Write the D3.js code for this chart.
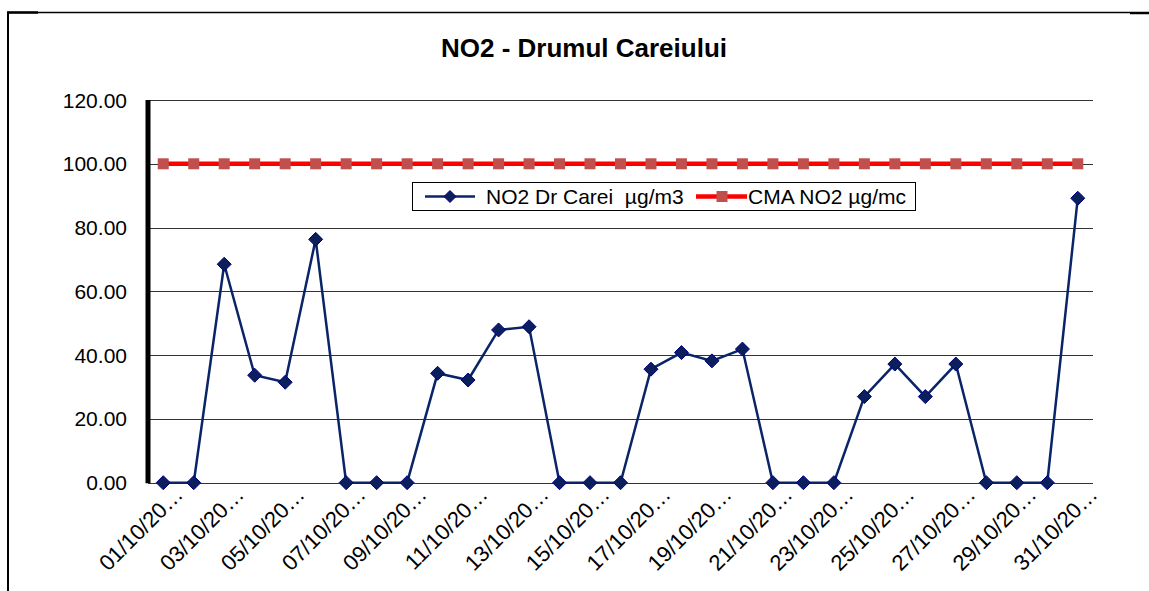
<!DOCTYPE html>
<html><head><meta charset="utf-8">
<script src="https://cdn.jsdelivr.net/npm/d3@7/dist/d3.min.js"></script>
<style>body{margin:0;background:#fff}svg{display:block}text{font-family:"Liberation Sans",Arial,sans-serif;white-space:pre}</style>
</head><body>
<script>
const days = ["01/10","02/10","03/10","04/10","05/10","06/10","07/10","08/10","09/10","10/10","11/10","12/10","13/10","14/10","15/10","16/10","17/10","18/10","19/10","20/10","21/10","22/10","23/10","24/10","25/10","26/10","27/10","28/10","29/10","30/10","31/10"];
const no2 = [0,0,68.5,33.7,31.5,76.3,0,0,0,34.3,32.2,47.9,48.9,0,0,0,35.6,40.8,38.2,41.9,0,0,0,27.0,37.2,27.0,37.2,0,0,0,89.2];
const cma = days.map(()=>100);
const tickLabels = ["01/10/20…","03/10/20…","05/10/20…","07/10/20…","09/10/20…","11/10/20…","13/10/20…","15/10/20…","17/10/20…","19/10/20…","21/10/20…","23/10/20…","25/10/20…","27/10/20…","29/10/20…","31/10/20…"];
const yTicks = [0,20,40,60,80,100,120];
const title = "NO2 - Drumul Careiului";
const seriesNames = ["NO2 Dr Carei  µg/m3","CMA NO2 µg/mc"];

const W=1149,H=591;
const svg=d3.select("body").append("svg").attr("width",W).attr("height",H);
// outer frame fragments
svg.append("line").attr("x1",7).attr("x2",1130).attr("y1",12.5).attr("y2",12.5).attr("stroke","#000").attr("stroke-width",1.5);
svg.append("line").attr("x1",7).attr("x2",38).attr("y1",12.5).attr("y2",12.5).attr("stroke","#000").attr("stroke-width",2.5);
svg.append("line").attr("x1",1130).attr("x2",1149).attr("y1",13).attr("y2",13).attr("stroke","#000").attr("stroke-width",2.5);
svg.append("line").attr("x1",8).attr("x2",8).attr("y1",12).attr("y2",H).attr("stroke","#000").attr("stroke-width",2);

const L=148,R=1093,T=100,B=482.7;
const x=d3.scaleBand().domain(days).range([L,R]);
const cx=d=>x(d)+x.bandwidth()/2;
const y=d3.scaleLinear().domain([0,120]).range([B,T]);

// title
svg.append("text").attr("x",584).attr("y",57).attr("text-anchor","middle").attr("font-size",26).attr("font-weight","bold").text(title);

// gridlines
svg.append("g").selectAll("line").data(yTicks).join("line")
 .attr("x1",L).attr("x2",R).attr("y1",d=>Math.round(y(d))+0.5).attr("y2",d=>Math.round(y(d))+0.5)
 .attr("stroke","#333").attr("stroke-width",1);
// y labels
svg.append("g").selectAll("text").data(yTicks).join("text")
 .attr("x",127).attr("y",d=>y(d)).attr("dy","0.36em").attr("text-anchor","end").attr("font-size",21)
 .text(d=>d3.format(".2f")(d));
// left axis thick
svg.append("line").attr("x1",148).attr("x2",148).attr("y1",T).attr("y2",B+0.5).attr("stroke","#000").attr("stroke-width",5);

// x labels
const lx=d3.scalePoint().domain(tickLabels).range([cx(days[0]),cx(days[30])]);
svg.append("g").selectAll("text").data(tickLabels).join("text")
 .attr("text-anchor","end").attr("font-size",22)
 .attr("transform",d=>`translate(${lx(d)+21},${496}) rotate(-45)`)
 .text(d=>d);

// CMA line
svg.append("path").datum(cma).attr("fill","none").attr("stroke","#ff0000").attr("stroke-width",4.5)
 .attr("d",d3.line().x((d,i)=>cx(days[i])).y(d=>y(d)));
svg.append("g").selectAll("rect").data(cma).join("rect")
 .attr("x",(d,i)=>cx(days[i])-5.5).attr("y",d=>y(d)-5.5).attr("width",11).attr("height",11).attr("fill","#c0504d");

// NO2 line
svg.append("path").datum(no2).attr("fill","none").attr("stroke","#0a2468").attr("stroke-width",2.5)
 .attr("d",d3.line().x((d,i)=>cx(days[i])).y(d=>y(d)));
const dia="M0,-7L7,0L0,7L-7,0Z";
svg.append("g").selectAll("path").data(no2).join("path")
 .attr("d",dia).attr("transform",(d,i)=>`translate(${cx(days[i])},${y(d)})`)
 .attr("fill","#0a1f5c").attr("stroke","#000080").attr("stroke-width",1);

// legend
const lg=svg.append("g");
lg.append("rect").attr("x",412.5).attr("y",182.5).attr("width",503).attr("height",28).attr("fill","#fff").attr("stroke","#000").attr("stroke-width",1);
lg.append("line").attr("x1",425).attr("x2",475).attr("y1",196.5).attr("y2",196.5).attr("stroke","#0a2468").attr("stroke-width",2.5);
lg.append("path").attr("d","M0,-6L6,0L0,6L-6,0Z").attr("transform","translate(450,196.5)").attr("fill","#0a1f5c").attr("stroke","#000080");
lg.append("text").attr("x",486).attr("y",196.5).attr("dy","0.36em").attr("font-size",21).text(seriesNames[0]);
lg.append("line").attr("x1",696).attr("x2",747).attr("y1",196.5).attr("y2",196.5).attr("stroke","#ff0000").attr("stroke-width",4.5);
lg.append("rect").attr("x",716.5).attr("y",191).attr("width",11).attr("height",11).attr("fill","#c0504d");
lg.append("text").attr("x",748).attr("y",196.5).attr("dy","0.36em").attr("font-size",21).text(seriesNames[1]);
</script>
</body></html>
